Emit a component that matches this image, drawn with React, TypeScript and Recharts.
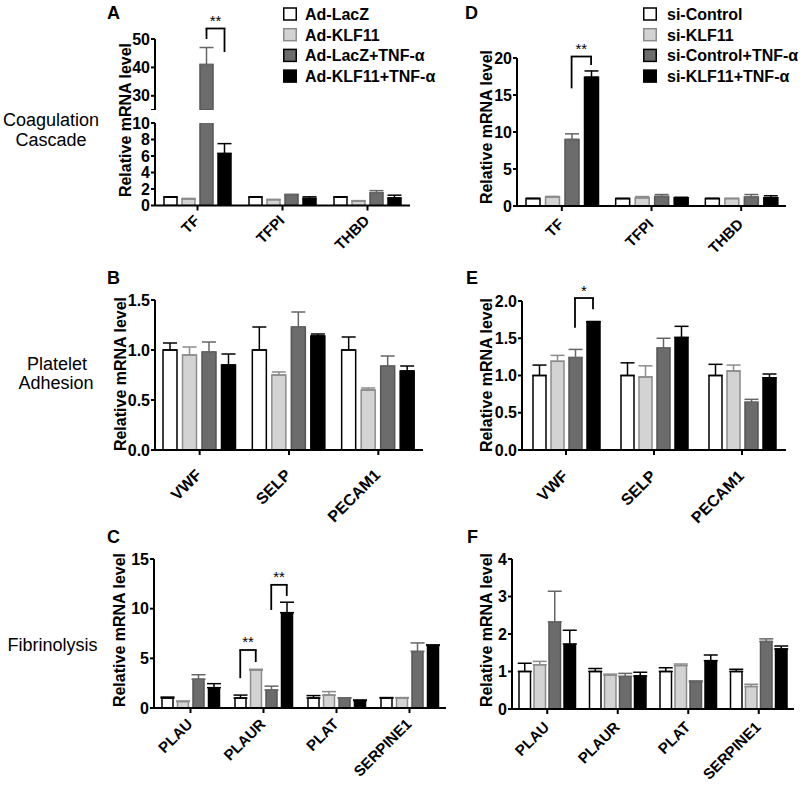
import { Bar, BarChart, ErrorBar, Rectangle, ReferenceLine, XAxis, YAxis } from 'recharts'

const FONT = '"Liberation Sans", Arial, Helvetica, sans-serif'

// genes
const coagGenes = ['TF', 'TFPI', 'THBD']
const plateletGenes = ['VWF', 'SELP', 'PECAM1']
const fibrinGenes = ['PLAU', 'PLAUR', 'PLAT', 'SERPINE1']

const adLabels = ['Ad-LacZ', 'Ad-KLF11', 'Ad-LacZ+TNF-α', 'Ad-KLF11+TNF-α']
const siLabels = ['si-Control', 'si-KLF11', 'si-Control+TNF-α', 'si-KLF11+TNF-α']

// A – adenovirus, coagulation cascade
const aLacZ = [1.0, 1.0, 1.0]
const aLacZSem = [0.06, 0.06, 0.06]
const aKlf = [0.8, 0.7, 0.55]
const aKlfSem = [0.06, 0.05, 0.04]
const aLacZTnf = [41, 1.3, 1.55]
const aLacZTnfSem = [6, 0.06, 0.25]
const aKlfTnf = [6.3, 0.85, 0.9]
const aKlfTnfSem = [1.2, 0.2, 0.35]

// B – adenovirus, platelet adhesion
const bLacZ = [1.0, 1.0, 1.0]
const bLacZSem = [0.07, 0.23, 0.13]
const bKlf = [0.95, 0.75, 0.6]
const bKlfSem = [0.08, 0.03, 0.02]
const bLacZTnf = [0.98, 1.23, 0.84]
const bLacZTnfSem = [0.1, 0.15, 0.1]
const bKlfTnf = [0.85, 1.14, 0.79]
const bKlfTnfSem = [0.11, 0.02, 0.05]

// C – adenovirus, fibrinolysis
const cLacZ = [1.0, 1.0, 1.0, 1.0]
const cLacZSem = [0.1, 0.3, 0.25, 0.05]
const cKlf = [0.65, 3.8, 1.3, 1.0]
const cKlfSem = [0.05, 0.1, 0.35, 0.05]
const cLacZTnf = [2.9, 1.8, 1.0, 5.7]
const cLacZTnfSem = [0.45, 0.4, 0, 0.85]
const cKlfTnf = [2.05, 9.6, 0.75, 6.3]
const cKlfTnfSem = [0.4, 1.05, 0.05, 0.05]

// D – siRNA, coagulation cascade
const dCtrl = [1.0, 1.0, 1.0]
const dCtrlSem = [0.03, 0.02, 0.03]
const dKlf = [1.2, 1.1, 1.0]
const dKlfSem = [0.1, 0.18, 0.03]
const dCtrlTnf = [9.0, 1.3, 1.2]
const dCtrlTnfSem = [0.75, 0.25, 0.35]
const dKlfTnf = [17.4, 1.1, 1.1]
const dKlfTnfSem = [0.85, 0.08, 0.28]

// E – siRNA, platelet adhesion
const eCtrl = [1.0, 1.0, 1.0]
const eCtrlSem = [0.14, 0.17, 0.15]
const eKlf = [1.19, 0.98, 1.06]
const eKlfSem = [0.08, 0.15, 0.08]
const eCtrlTnf = [1.24, 1.37, 0.64]
const eCtrlTnfSem = [0.11, 0.13, 0.04]
const eKlfTnf = [1.72, 1.51, 0.97]
const eKlfTnfSem = [0.005, 0.15, 0.05]

// F – siRNA, fibrinolysis
const fCtrl = [1.0, 1.0, 1.0, 1.0]
const fCtrlSem = [0.22, 0.08, 0.1, 0.06]
const fKlf = [1.18, 0.9, 1.16, 0.6]
const fKlfSem = [0.09, 0.03, 0.04, 0.06]
const fCtrlTnf = [2.32, 0.87, 0.73, 1.8]
const fCtrlTnfSem = [0.82, 0.08, 0.02, 0.07]
const fKlfTnf = [1.73, 0.88, 1.29, 1.6]
const fKlfTnfSem = [0.37, 0.1, 0.15, 0.08]

// y ticks
const aUpperTicks = [25, 30, 40, 50]
const aLowerTicks = [0, 2, 4, 6, 8, 10]
const bTicks = [0, 0.5, 1.0, 1.5]
const cTicks = [0, 5, 10, 15]
const dTicks = [0, 5, 10, 15, 20]
const eTicks = [0, 0.5, 1.0, 1.5, 2.0]
const fTicks = [0, 1, 2, 3, 4]

type Bracket = { gene: string; from: number; to: number; top: number; leftEnd: number; rightEnd: number; stars: string }

const aBrackets: Bracket[] = [{ gene: 'TF', from: 2, to: 3, top: 53.7, leftEnd: 50, rightEnd: 45.4, stars: '**' }]
const cBrackets: Bracket[] = [
  { gene: 'PLAUR', from: 0, to: 1, top: 5.84, leftEnd: 3.0, rightEnd: 4.63, stars: '**' },
  { gene: 'PLAUR', from: 2, to: 3, top: 12.4, leftEnd: 9.87, rightEnd: 11.28, stars: '**' },
]
const dBrackets: Bracket[] = [{ gene: 'TF', from: 2, to: 3, top: 20.2, leftEnd: 15.9, rightEnd: 19.05, stars: '**' }]
const eBrackets: Bracket[] = [{ gene: 'VWF', from: 2, to: 3, top: 2.04, leftEnd: 1.64, rightEnd: 1.89, stars: '*' }]

const fills = ['#ffffff', '#d3d3d3', '#6c6c6c', '#000000']
const strokes = ['#000000', '#8c8c8c', '#555555', '#000000']
const errColors = ['#000000', '#8c8c8c', '#666666', '#000000']

function buildRows(genes: string[], means: number[][], sems: number[][]) {
  return genes.map((gene, i) => {
    const row: Record<string, unknown> = { gene }
    means.forEach((m, k) => {
      row[`s${k}`] = m[i]
      row[`e${k}`] = [0, sems[k][i]]
    })
    return row
  })
}

const rowsA = buildRows(coagGenes, [aLacZ, aKlf, aLacZTnf, aKlfTnf], [aLacZSem, aKlfSem, aLacZTnfSem, aKlfTnfSem])
const rowsB = buildRows(plateletGenes, [bLacZ, bKlf, bLacZTnf, bKlfTnf], [bLacZSem, bKlfSem, bLacZTnfSem, bKlfTnfSem])
const rowsC = buildRows(fibrinGenes, [cLacZ, cKlf, cLacZTnf, cKlfTnf], [cLacZSem, cKlfSem, cLacZTnfSem, cKlfTnfSem])
const rowsD = buildRows(coagGenes, [dCtrl, dKlf, dCtrlTnf, dKlfTnf], [dCtrlSem, dKlfSem, dCtrlTnfSem, dKlfTnfSem])
const rowsE = buildRows(plateletGenes, [eCtrl, eKlf, eCtrlTnf, eKlfTnf], [eCtrlSem, eKlfSem, eCtrlTnfSem, eKlfTnfSem])
const rowsF = buildRows(fibrinGenes, [fCtrl, fKlf, fCtrlTnf, fKlfTnf], [fCtrlSem, fKlfSem, fCtrlTnfSem, fKlfTnfSem])

function GeneTick(props: any) {
  const { x, y, payload, size, dy } = props
  const px = x + 3
  const py = y + dy
  return <text x={px} y={py} transform={`rotate(-45 ${px} ${py})`} textAnchor="end" fontSize={size} fontWeight={700} fontFamily={FONT} fill="#000">{payload.value}</text>
}

// bars cut off by the broken axis collapse to a line; skip those
function BarShape(props: any) {
  if (!(props.height > 1)) return <g />
  return <Rectangle {...props} />
}

// leg of a significance bracket; x1 is the centre of the gene's band
function legShape(dx: number, hx: number | null, stars: string | null) {
  return (props: any) => {
    const { x1, y1, y2 } = props
    const x = x1 + dx
    return <g>
      <line x1={x} y1={y1} x2={x} y2={y2} stroke="#000" strokeWidth={1.8} />
      {hx != null && <line x1={x - 0.9} y1={y2} x2={x1 + hx + 0.9} y2={y2} stroke="#000" strokeWidth={1.8} />}
      {stars && hx != null && <text x={(x + x1 + hx) / 2} y={y2 - 2.5} textAnchor="middle" fontSize={15} fontFamily={FONT} fill="#000" stroke="none">{stars}</text>}
    </g>
  }
}

type PanelProps = {
  rows: Record<string, unknown>[]
  axisX: number
  yTop: number
  yZero: number
  plotW: number
  domain: [number, number]
  ticks: number[]
  fmt?: (v: number) => string
  barSize: number
  barGap: number
  mt: number
  labelSize?: number
  labelDy?: number
  hideX?: boolean
  brackets?: Bracket[]
}

function Panel(p: PanelProps) {
  const yw = 45
  const right = 12
  const plotH = p.yZero - p.yTop
  const xh = p.hideX ? 0 : 80
  const width = yw + p.plotW + right
  const height = p.mt + plotH + xh
  const pitch = p.barSize + p.barGap
  const off = (i: number) => (i - 1.5) * pitch
  const size = p.labelSize ?? 16
  const dy = p.labelDy ?? 12
  return <div style={{ position: 'absolute', left: p.axisX - yw, top: p.yTop - p.mt, width, height: p.hideX ? p.mt + plotH + 2 : height, overflow: 'hidden' }}>
    <BarChart width={width} height={height} data={p.rows} margin={{ top: p.mt, right, bottom: 0, left: 0 }} barSize={p.barSize} barGap={p.barGap}>
      <XAxis dataKey="gene" hide={p.hideX} height={xh} interval={0} tickSize={5}
        axisLine={{ stroke: '#000', strokeWidth: 2 }} tickLine={{ stroke: '#000', strokeWidth: 2 }} tick={(t: any) => <GeneTick {...t} size={size} dy={dy} />} />
      <YAxis width={yw} type="number" domain={p.domain} ticks={p.ticks} allowDataOverflow interval={0} tickSize={4} tickMargin={1}
        axisLine={{ stroke: '#000', strokeWidth: 2 }} tickLine={{ stroke: '#000', strokeWidth: 2 }}
        tick={{ fill: '#000', fontSize: 16, fontWeight: 700, fontFamily: FONT }} tickFormatter={p.fmt} />
      {[0, 1, 2, 3].map((i) => <Bar key={i} dataKey={`s${i}`} fill={fills[i]} stroke={strokes[i]} strokeWidth={1.5} shape={BarShape} isAnimationActive={false}>
        <ErrorBar dataKey={`e${i}`} width={7} stroke={errColors[i]} strokeWidth={1.5} direction="y" />
      </Bar>)}
      {(p.brackets ?? []).flatMap((b, k) => [
        <ReferenceLine key={`l${k}`} segment={[{ x: b.gene, y: b.leftEnd }, { x: b.gene, y: b.top }]} ifOverflow="visible"
          shape={legShape(off(b.from), off(b.to), b.stars)} />,
        <ReferenceLine key={`r${k}`} segment={[{ x: b.gene, y: b.rightEnd }, { x: b.gene, y: b.top }]} ifOverflow="visible"
          shape={legShape(off(b.to), null, null)} />,
      ])}
    </BarChart>
  </div>
}

const oneDecimal = (v: number) => v.toFixed(1)
const upperFmt = (v: number) => (v === 25 ? '' : String(v))

function Legend({ x, gap, labels }: { x: number; gap: number; labels: string[] }) {
  return <g>
    {labels.map((label, i) => {
      const cy = 14 + i * 20.7
      return <g key={label}>
        <rect x={x + 0.75} y={cy - 6} width={12.5} height={12} fill={fills[i]} stroke={i === 1 ? '#8c8c8c' : '#000'} strokeWidth={1.5} />
        <text x={x + 14 + gap} y={cy + 6} fontSize={16} fontWeight={700} fontFamily={FONT} fill="#000">{label}</text>
      </g>
    })}
  </g>
}

function AxisTitle({ x, cy }: { x: number; cy: number }) {
  return <text x={x} y={cy} transform={`rotate(-90 ${x} ${cy})`} textAnchor="middle" fontSize={16} fontWeight={700} fontFamily={FONT} fill="#000">Relative mRNA level</text>
}

export default function App() {
  const letter = { fontSize: 18, fontWeight: 700, fontFamily: FONT, fill: '#000' } as const
  const row = { fontSize: 18, fontFamily: FONT, fill: '#000', textAnchor: 'middle' } as const
  return <div style={{ position: 'absolute', left: 0, top: 0, width: 806, height: 787, background: '#fff', overflow: 'hidden' }}>
    <Panel rows={rowsA} axisX={155} yTop={39} yZero={110} plotW={255} domain={[25, 50]} ticks={aUpperTicks} fmt={upperFmt}
      barSize={13} barGap={5} mt={38} hideX brackets={aBrackets} />
    <Panel rows={rowsA} axisX={155} yTop={123} yZero={205.5} plotW={255} domain={[0, 10]} ticks={aLowerTicks}
      barSize={13} barGap={5} mt={12} labelSize={15} labelDy={9} />
    <Panel rows={rowsB} axisX={155} yTop={300} yZero={450} plotW={268} domain={[0, 1.5]} ticks={bTicks} fmt={oneDecimal}
      barSize={14} barGap={5.5} mt={12} labelDy={19} />
    <Panel rows={rowsC} axisX={154} yTop={559} yZero={708} plotW={292} domain={[0, 15]} ticks={cTicks}
      barSize={11} barGap={4.5} mt={30} labelSize={15} labelDy={10} brackets={cBrackets} />
    <Panel rows={rowsD} axisX={517} yTop={58} yZero={206} plotW={269} domain={[0, 20]} ticks={dTicks}
      barSize={14} barGap={5.5} mt={30} labelSize={15} labelDy={12} brackets={dBrackets} />
    <Panel rows={rowsE} axisX={522} yTop={301} yZero={450} plotW={264} domain={[0, 2]} ticks={eTicks} fmt={oneDecimal}
      barSize={13} barGap={5} mt={30} labelDy={20} brackets={eBrackets} />
    <Panel rows={rowsF} axisX={512} yTop={559} yZero={709} plotW={282} domain={[0, 4]} ticks={fTicks}
      barSize={11.5} barGap={3.5} mt={12} labelSize={15} labelDy={12} />
    <svg width={806} height={787} style={{ position: 'absolute', left: 0, top: 0, pointerEvents: 'none' }}>
      <text x={107} y={18.5} {...letter}>A</text>
      <text x={107} y={283.5} {...letter}>B</text>
      <text x={107} y={542.5} {...letter}>C</text>
      <text x={465} y={18.5} {...letter}>D</text>
      <text x={466} y={283.5} {...letter}>E</text>
      <text x={467} y={542.5} {...letter}>F</text>
      <text x={51} y={126} {...row}>Coagulation</text>
      <text x={51} y={146} {...row}>Cascade</text>
      <text x={57} y={370} {...row}>Platelet</text>
      <text x={56} y={389} {...row}>Adhesion</text>
      <text x={52.5} y={651} {...row}>Fibrinolysis</text>
      <AxisTitle x={131} cy={120} />
      <AxisTitle x={126} cy={374} />
      <AxisTitle x={125} cy={630} />
      <AxisTitle x={492} cy={127} />
      <AxisTitle x={492} cy={375} />
      <AxisTitle x={492} cy={630} />
      <Legend x={283} gap={8} labels={adLabels} />
      <Legend x={643} gap={10} labels={siLabels} />
    </svg>
  </div>
}
